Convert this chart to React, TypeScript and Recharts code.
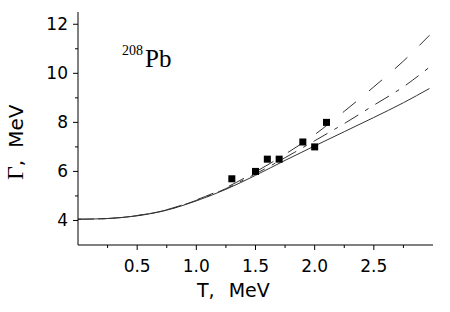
import React from 'react';
import { ComposedChart, Line, Scatter, XAxis, YAxis } from 'recharts';

const tGrid = [0, 0.25, 0.5, 0.75, 1.0, 1.25, 1.5, 1.75, 2.0, 2.25, 2.5, 2.75, 2.97];
const solidG = [4.05, 4.08, 4.19, 4.42, 4.8, 5.27, 5.84, 6.45, 7.04, 7.62, 8.2, 8.8, 9.38];
const dashDotG = [4.05, 4.08, 4.2, 4.43, 4.82, 5.3, 5.9, 6.56, 7.25, 7.95, 8.7, 9.45, 10.25];
const dashedG = [4.05, 4.08, 4.2, 4.44, 4.84, 5.34, 5.98, 6.7, 7.5, 8.45, 9.45, 10.5, 11.55];

const expT = [1.3, 1.5, 1.6, 1.7, 1.9, 2.0, 2.1];
const expG = [5.7, 6.0, 6.5, 6.5, 7.2, 7.0, 8.0];

const xTicks = [0.25, 0.5, 0.75, 1.0, 1.25, 1.5, 1.75, 2.0, 2.25, 2.5, 2.75];
const xMajor = [0.5, 1.0, 1.5, 2.0, 2.5];
const yTicks = [4, 5, 6, 7, 8, 9, 10, 11, 12];
const yMajor = [4, 6, 8, 10, 12];

const mk = (g: number[]) => tGrid.map((t, i) => ({ t, g: g[i] }));
const solidData = mk(solidG);
const dashDotData = mk(dashDotG);
const dashedData = mk(dashedG);
const expData = expT.map((t, i) => ({ t, g: expG[i] }));

const TICK_FONT = 'DejaVu Sans, sans-serif';

const XTick = (props: any) => {
  const { x, y, payload } = props;
  const v = payload.value;
  const major = xMajor.some((m) => Math.abs(m - v) < 1e-6);
  return (
    <g>
      <line x1={x} x2={x} y1={y} y2={y + (major ? 5 : 3)} stroke="#000" strokeWidth={1} />
      {major && (
        <text x={x} y={y + 27} textAnchor="middle" fontSize={17} fontFamily={TICK_FONT} fill="#000">
          {v.toFixed(1)}
        </text>
      )}
    </g>
  );
};

const YTick = (props: any) => {
  const { x, y, payload } = props;
  const v = payload.value;
  const major = yMajor.includes(v);
  return (
    <g>
      <line x1={x} x2={x - (major ? 5 : 3)} y1={y} y2={y} stroke="#000" strokeWidth={1} />
      {major && (
        <text x={x - 10} y={y + 6} textAnchor="end" fontSize={17} fontFamily={TICK_FONT} fill="#000">
          {v}
        </text>
      )}
    </g>
  );
};

const Square = (props: any) => {
  const { cx, cy } = props;
  return <rect x={cx - 3.5} y={cy - 3.5} width={7} height={7} fill="#000" />;
};

export default function App() {
  return (
    <div style={{ position: 'absolute', left: 0, top: 0, width: 450, height: 312, background: '#fff' }}>
      <ComposedChart width={450} height={312} margin={{ top: 12, right: 17, bottom: 37, left: 0 }}>
        <XAxis
          dataKey="t"
          type="number"
          domain={[0, 3]}
          ticks={xTicks}
          tick={<XTick />}
          tickLine={false}
          tickSize={0}
          tickMargin={0}
          height={30}
          axisLine={{ stroke: '#000', strokeWidth: 1 }}
          allowDataOverflow
        />
        <YAxis
          type="number"
          domain={[3, 12.5]}
          ticks={yTicks}
          tick={<YTick />}
          tickLine={false}
          tickSize={0}
          tickMargin={0}
          width={78}
          axisLine={{ stroke: '#000', strokeWidth: 1 }}
          allowDataOverflow
        />
        <Line data={solidData} dataKey="g" type="monotone" stroke="#333" strokeWidth={1} dot={false} isAnimationActive={false} />
        <Line data={dashDotData} dataKey="g" type="monotone" stroke="#333" strokeWidth={1} strokeDasharray="16 8 4 8" dot={false} isAnimationActive={false} />
        <Line data={dashedData} dataKey="g" type="monotone" stroke="#333" strokeWidth={1} strokeDasharray="17 17" strokeDashoffset={14} dot={false} isAnimationActive={false} />
        <Scatter data={expData} dataKey="g" shape={<Square />} isAnimationActive={false} />
        <text x={122} y={55} fontFamily="Liberation Serif, serif" fontSize={14} fill="#000">208</text>
        <text x={145} y={67} fontFamily="Liberation Serif, serif" fontSize={25} fill="#000">Pb</text>
        <text x={197} y={297} fontFamily={TICK_FONT} fontSize={19} fill="#000">
          T,<tspan dx={14}>MeV</tspan>
        </text>
        <text transform="translate(23,180) rotate(-90)" x={0} y={0} fill="#000">
          <tspan fontFamily="Liberation Serif, serif" fontSize={24}>Γ</tspan>
          <tspan fontFamily={TICK_FONT} fontSize={20}>,</tspan>
          <tspan dx={12} fontFamily={TICK_FONT} fontSize={20}>MeV</tspan>
        </text>
      </ComposedChart>
    </div>
  );
}
